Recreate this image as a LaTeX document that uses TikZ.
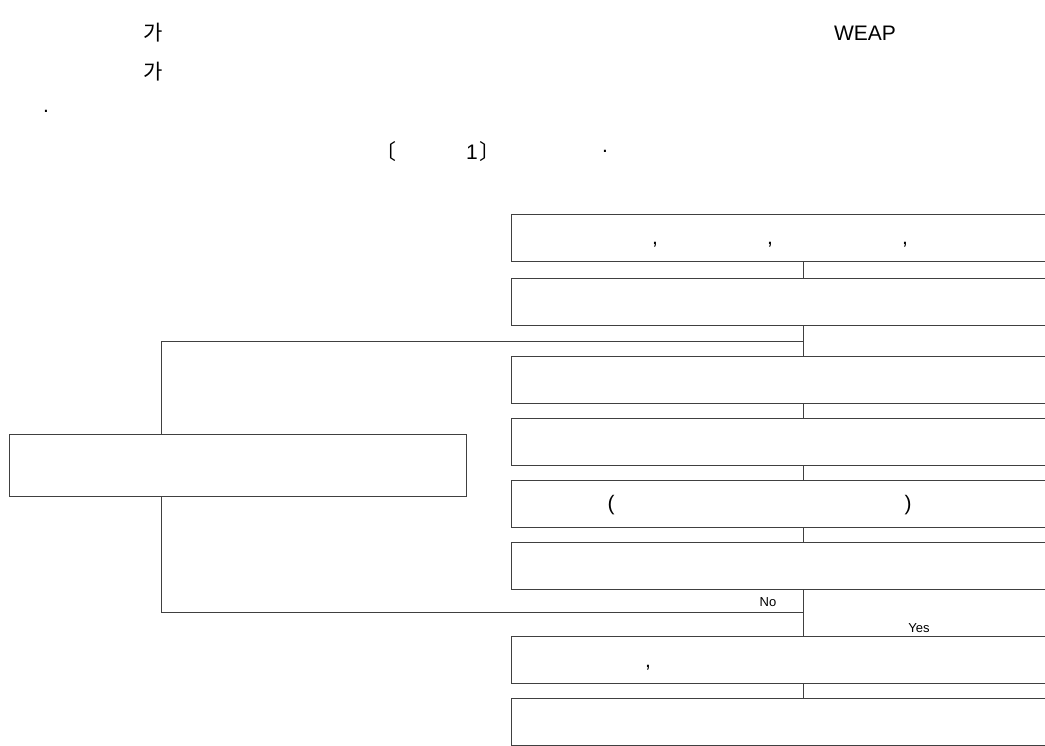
\documentclass[tikz,border=0pt]{standalone}
\usepackage{fontspec}
\setmainfont{Liberation Sans}
\newfontfamily\kr{Noto Sans CJK KR}
\begin{document}
\begin{tikzpicture}[x=1pt,y=-1pt,
  line/.style={draw=black!75,line width=1pt},
  rbox/.style={line,rectangle,anchor=north west,minimum width=545pt,minimum height=47pt,inner sep=0pt},
  lbox/.style={line,rectangle,anchor=north west,minimum width=457pt,minimum height=62pt,inner sep=0pt},
  txt/.style={inner sep=0pt,font=\fontsize{21}{24}\selectfont},
  small/.style={inner sep=0pt,font=\fontsize{13}{15}\selectfont}]
\useasboundingbox (0,0) rectangle (1045,746);
\clip (0,0) rectangle (1045,746);
% top text
\node[txt] (t1) at (153,33) {\kr 가};
\node[txt] (t2) at (153,72) {\kr 가};
\node[txt] (t3) at (865,33) {WEAP};
\node[txt] (t4) at (46,111) {.};
\node[txt] (t5) at (386,152) {\kr 〔};
\node[txt] (t6) at (472,152) {1};
\node[txt] (t7) at (490,152) {\kr 〕};
\node[txt] (t8) at (605,151) {.};
% boxes
\node[rbox] (b1) at (510.5,214.5) {};
\node[rbox] (b2) at (510.5,278.5) {};
\node[rbox] (b3) at (510.5,356) {};
\node[rbox] (b4) at (510.5,418) {};
\node[rbox] (b5) at (510.5,480) {};
\node[rbox] (b6) at (510.5,542) {};
\node[rbox] (b7) at (510.5,636) {};
\node[rbox] (b8) at (510.5,698) {};
\node[lbox] (L) at (8.5,434) {};
% texts in boxes
\node[txt] (c1) at (655,245) {,};
\node[txt] (c2) at (770,245) {,};
\node[txt] (c3) at (905,245) {,};
\node[txt] (p1) at (611,505) {(};
\node[txt] (p2) at (908,505) {)};
\node[txt] (c4) at (648,668) {,};
% spine
\coordinate (sp) at (803,0);
\coordinate (lv) at (161,0);
\coordinate (j1) at (803,341);
\coordinate (j2) at (803,612);
\draw[line] (b1.south -| sp) -- (b2.north -| sp);
\draw[line] (b2.south -| sp) -- (b3.north -| sp);
\draw[line] (b3.south -| sp) -- (b4.north -| sp);
\draw[line] (b4.south -| sp) -- (b5.north -| sp);
\draw[line] (b5.south -| sp) -- (b6.north -| sp);
\draw[line] (b6.south -| sp) -- (b7.north -| sp);
\draw[line] (b7.south -| sp) -- (b8.north -| sp);
\draw[line] (j1) -- (j1 -| lv) -- (L.north -| lv);
\draw[line] (L.south -| lv) -- (j2 -| lv) -- (j2);
\node[small] (no) at (768,602) {No};
\node[small] (yes) at (919,628) {Yes};
\end{tikzpicture}
\end{document}
